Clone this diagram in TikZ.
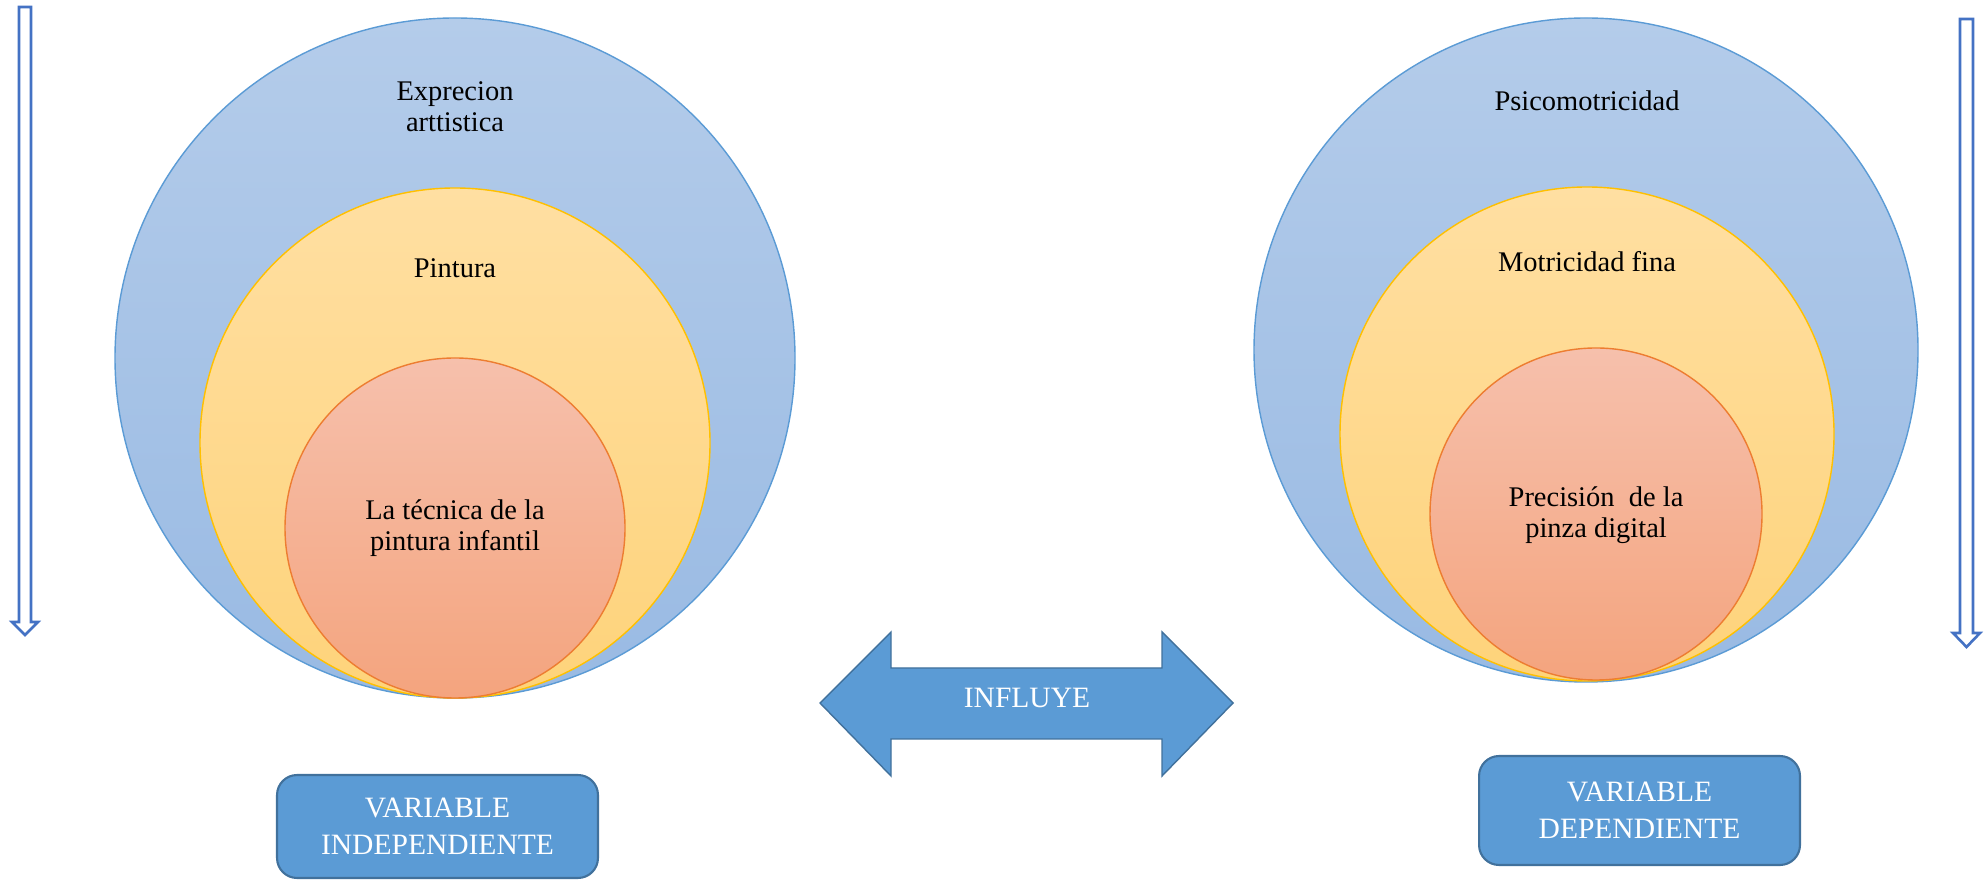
\documentclass[tikz,border=0pt]{standalone}
\usepackage{fontspec}
\setmainfont{Liberation Serif}
\usepackage{xcolor}
\usetikzlibrary{positioning}

\definecolor{outerline}{HTML}{5B9BD5}
\definecolor{outertop}{HTML}{B4CCEA}
\definecolor{outerbot}{HTML}{99BAE3}
\definecolor{midline}{HTML}{FFC000}
\definecolor{midtop}{HTML}{FFDFA2}
\definecolor{midbot}{HTML}{FED37A}
\definecolor{innerline}{HTML}{ED7D31}
\definecolor{innertop}{HTML}{F6C0AC}
\definecolor{innerbot}{HTML}{F4A47E}
\definecolor{boxfill}{HTML}{5B9BD5}
\definecolor{boxline}{HTML}{41719C}
\definecolor{downline}{HTML}{4472C4}

\begin{document}
\begin{tikzpicture}[x=0.02cm, y=0.02cm,
  outer/.style={draw=outerline, line width=0.8pt, top color=outertop, bottom color=outerbot},
  middle/.style={draw=midline, line width=0.8pt, top color=midtop, bottom color=midbot},
  inner/.style={draw=innerline, line width=0.8pt, top color=innertop, bottom color=innerbot},
  label/.style={align=center, font=\fontsize{16.2}{17.5}\selectfont},
  varbox/.style={draw=boxline, line width=1.2pt, fill=boxfill, rounded corners=0.4cm,
    minimum width=6.42cm, align=center, text=white, font=\fontsize{16.8}{21}\selectfont},
  downarrow/.style={draw=downline, line width=1.5pt, fill=white}]
  \useasboundingbox (0,0) rectangle (1986,882);

  % left side arrow
  \draw[downarrow] (19,875) -- (31,875) -- (31,260) -- (38,260) -- (25,247)
    -- (12,260) -- (19,260) -- cycle;

  % right side arrow
  \draw[downarrow] (1960,863) -- (1973,863) -- (1973,249) -- (1980,249)
    -- (1966.5,235) -- (1953,249) -- (1960,249) -- cycle;

  % independent variable
  \draw[outer] (455,524) circle (340);
  \draw[middle] (455,439) circle (255);
  \draw[inner] (455,354) circle (170);
  \node[label] (exprecion) at (455,775) {Exprecion\\arttistica};
  \node[label] (pintura) at (455,614) {Pintura};
  \node[label] (tecnica) at (455,354) {La técnica de la\\pintura infantil};

  % dependent variable
  \draw[outer] (1586,532) circle (332);
  \draw[middle] (1587,448) circle (247);
  \draw[inner] (1596,368) circle (166);
  \node[label] (psico) at (1587,781) {Psicomotricidad};
  \node[label] (motricidad) at (1587,620) {Motricidad fina};
  \node[label] (pinza) at (1596,367) {Precisión~ de la\\pinza digital};

  % influye
  \draw[draw=boxline, line width=0.8pt, fill=boxfill]
    (820,179) -- (891,250) -- (891,214) -- (1162,214) -- (1162,250) -- (1233,179)
    -- (1162,106) -- (1162,143) -- (891,143) -- (891,106) -- cycle;
  \node[text=white, font=\fontsize{16.8}{17.5}\selectfont] (influye) at (1027,184) {INFLUYE};

  % boxes
  \node[varbox, minimum height=2.06cm] (indep) at (437.5,55.5) {VARIABLE\\INDEPENDIENTE};
  \node[varbox, minimum height=2.18cm] (dep) at (1639.5,71.5) {VARIABLE\\DEPENDIENTE};
\end{tikzpicture}
\end{document}
